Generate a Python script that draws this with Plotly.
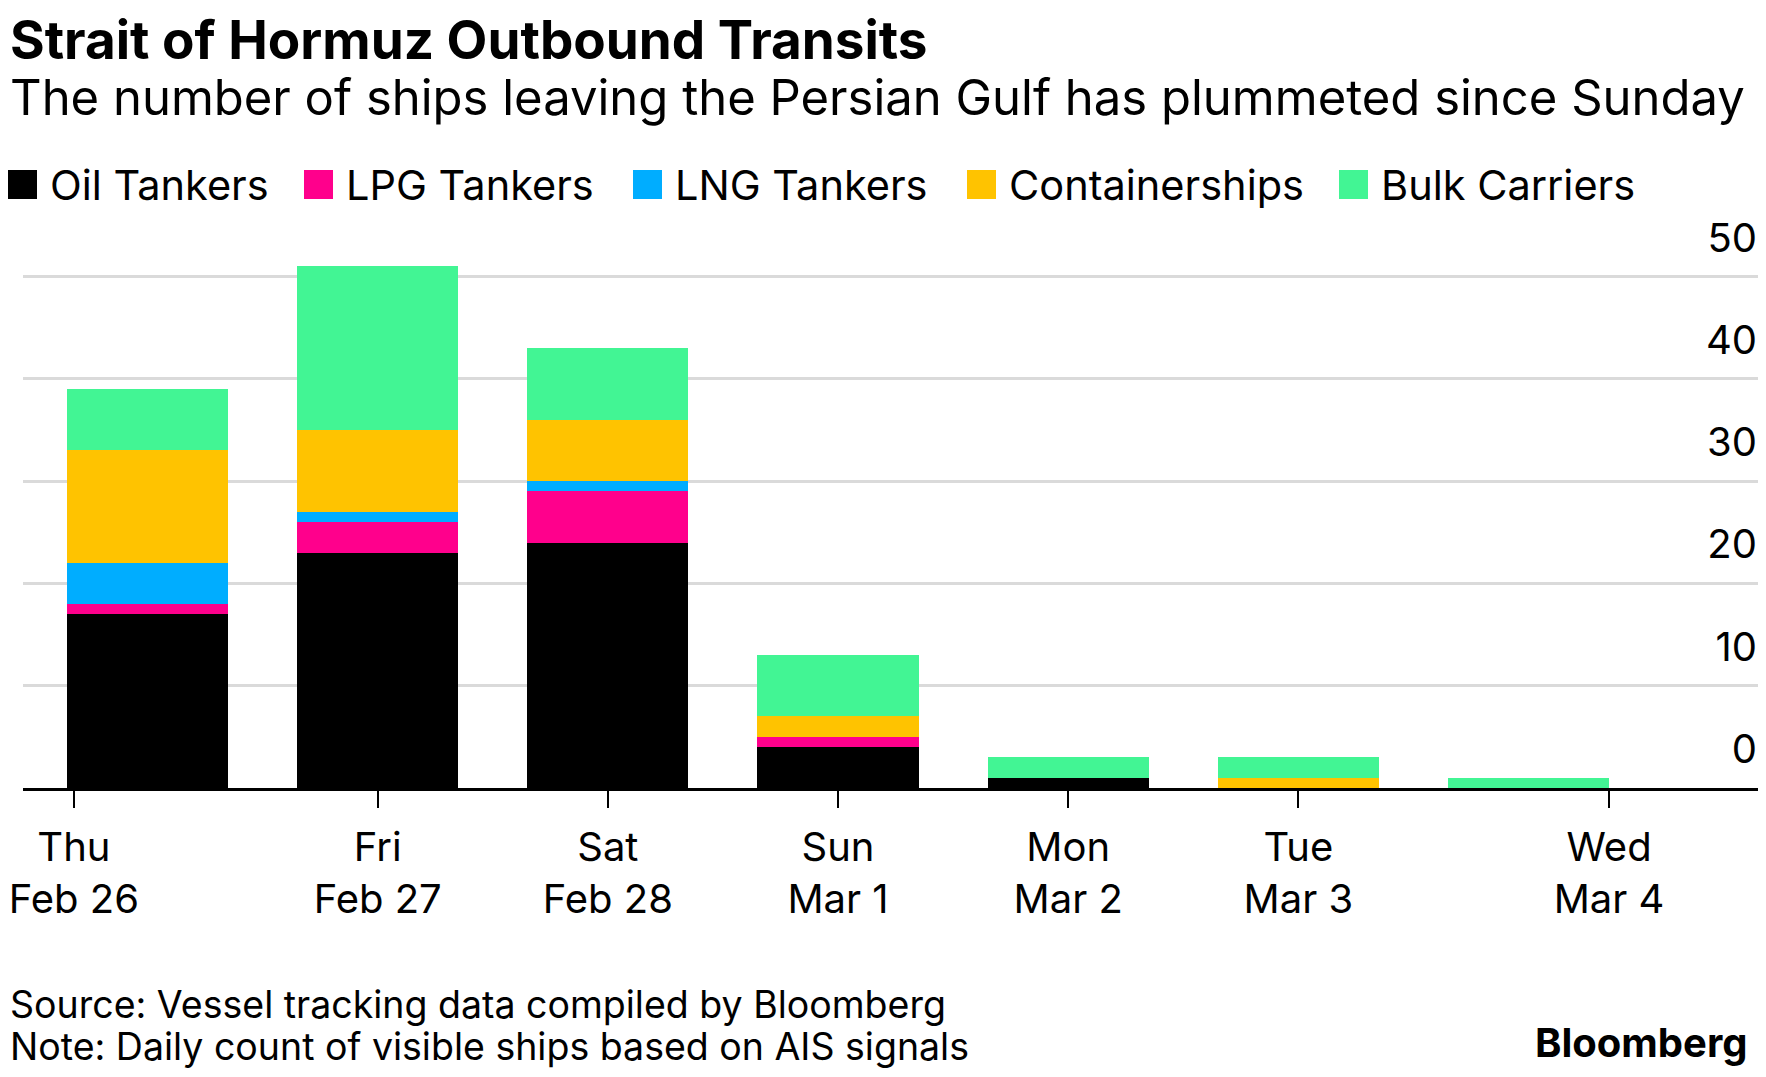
import plotly.graph_objects as go

# Data (daily outbound transits)
days = ['Thu', 'Fri', 'Sat', 'Sun', 'Mon', 'Tue', 'Wed']
dates = ['Feb 26', 'Feb 27', 'Feb 28', 'Mar 1', 'Mar 2', 'Mar 3', 'Mar 4']

oil_tankers = [17, 23, 24, 4, 1, 0, 0]
lpg_tankers = [1, 3, 5, 1, 0, 0, 0]
lng_tankers = [4, 1, 1, 0, 0, 0, 0]
containerships = [11, 8, 6, 2, 0, 1, 0]
bulk_carriers = [6, 16, 7, 6, 2, 2, 1]

series_names = ['Oil Tankers', 'LPG Tankers', 'LNG Tankers', 'Containerships', 'Bulk Carriers']
series_values = [oil_tankers, lpg_tankers, lng_tankers, containerships, bulk_carriers]
y_ticks = [0, 10, 20, 30, 40, 50]

## Style
col_scale = ['#000000', '#ff008c', '#00adff', '#ffc300', '#42f594']
font_family = 'Inter, Liberation Sans, Arial, sans-serif'
OFF = 8  # default body margin of the html page (on every side)
W, H = 1766 - 2 * OFF, 1077 - 2 * OFF
ML, MR, MT, MB = 15, 0, 197, 281
bar_width = 0.7

# helpers to place layout items by window pixels
def px_x(px):
    return (px - OFF - ML) / (W - ML - MR)

def px_y(py):
    return (H - MB - (py - OFF)) / (H - MT - MB)

##############################################################

fig = go.Figure()
x_idx = list(range(len(days)))

for name, vals, col in zip(series_names, series_values, col_scale):
    fig.add_trace(go.Bar(x=x_idx, y=vals, name=name, width=bar_width,
                         marker=dict(color=col, line=dict(width=0)),
                         showlegend=False))

# first / last ticks sit at the outer bar edges, like the original
# (first one nudged a little so its label stays inside the page)
tick_vals = list(x_idx)
tick_vals[0] = x_idx[0] - bar_width / 2 + 0.03
tick_vals[-1] = x_idx[-1] + bar_width / 2
tick_text = [f'{d}<br>{t}' for d, t in zip(days, dates)]

fig.update_xaxes(range=[-0.541, 6.997], tickvals=tick_vals, ticktext=tick_text,
                 showline=True, linewidth=2.5, linecolor='black',
                 ticks='outside', ticklen=17, tickwidth=2, tickcolor='black',
                 ticklabelstandoff=5, ticklabeloverflow='allow',
                 showgrid=False, zeroline=False,
                 tickfont=dict(family=font_family, size=40, color='black'))
fig.update_yaxes(range=[0, 57], tickvals=y_ticks, side='right',
                 ticklabelposition='inside', ticklabelshift=-39, ticklabelstandoff=-2,
                 showgrid=True, gridcolor='#dadada', gridwidth=3,
                 zeroline=False, showline=False, ticks='',
                 tickfont=dict(family=font_family, size=40, color='black'))

fig.update_layout(barmode='stack', plot_bgcolor='white', paper_bgcolor='white',
                  width=W, height=H, autosize=False,
                  margin=dict(l=ML, r=MR, t=MT, b=MB),
                  font=dict(family=font_family, color='black'),
                  showlegend=False)

# Title and subtitle
fig.add_annotation(text='<b>Strait of Hormuz Outbound Transits</b>',
                   xref='paper', yref='paper', x=px_x(OFF), y=px_y(40),
                   xanchor='left', yanchor='middle', showarrow=False,
                   font=dict(size=53, color='black'))
fig.add_annotation(text='The number of ships leaving the Persian Gulf has plummeted since Sunday',
                   xref='paper', yref='paper', x=px_x(OFF), y=px_y(97),
                   xanchor='left', yanchor='middle', showarrow=False,
                   font=dict(size=49, color='black'))

# Legend (big squares, as in the original)
legend_x = [OFF, 304, 633, 967, 1339]
for name, col, lx in zip(series_names, col_scale, legend_x):
    fig.add_shape(type='rect', xref='paper', yref='paper',
                  x0=px_x(lx), x1=px_x(lx + 29), y0=px_y(199), y1=px_y(170),
                  fillcolor=col, line=dict(width=0))
    fig.add_annotation(text=name, xref='paper', yref='paper',
                       x=px_x(lx + 40), y=px_y(184.5),
                       xanchor='left', yanchor='middle', showarrow=False,
                       font=dict(size=41.5, color='black'))

# Footer
fig.add_annotation(text='Source: Vessel tracking data compiled by Bloomberg',
                   xref='paper', yref='paper', x=px_x(OFF), y=px_y(1004),
                   xanchor='left', yanchor='middle', showarrow=False,
                   font=dict(size=37.5, color='black'))
fig.add_annotation(text='Note: Daily count of visible ships based on AIS signals',
                   xref='paper', yref='paper', x=px_x(OFF), y=px_y(1046),
                   xanchor='left', yanchor='middle', showarrow=False,
                   font=dict(size=37.5, color='black'))
fig.add_annotation(text='<b>Bloomberg</b>',
                   xref='paper', yref='paper', x=px_x(1750), y=px_y(1042),
                   xanchor='right', yanchor='middle', showarrow=False,
                   font=dict(size=40, color='black'))

fig.write_html('out.html')
